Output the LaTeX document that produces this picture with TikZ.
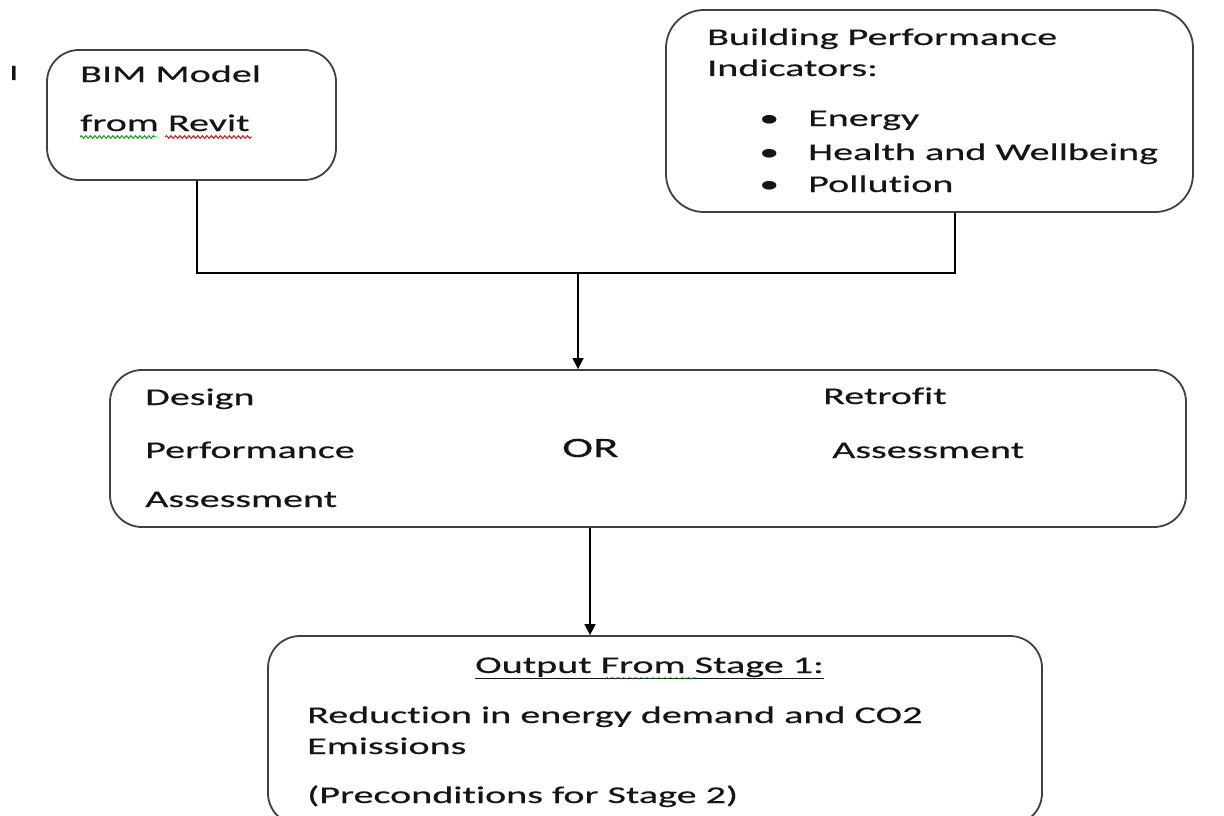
\documentclass[tikz,border=0pt]{standalone}
\usepackage{fontspec}
\setmainfont[FakeStretch=1.67,FakeBold=0.4,Ligatures=NoCommon]{Carlito}
\usetikzlibrary{arrows.meta,decorations.pathmorphing}
\definecolor{boxline}{HTML}{404040}
\definecolor{txt}{HTML}{151515}
\tikzset{
  box/.style={draw=boxline, line width=1.8pt, rounded corners=32pt, rectangle, inner sep=0pt},
  lbl/.style={anchor=base west, inner sep=0pt, text=txt, font=\fontsize{24}{28}\selectfont},
  conn/.style={draw=black, line width=1.6pt},
  arr/.style={conn, -{Triangle[width=11pt,length=11pt]}},
  squig/.style={line width=0.9pt, decorate, decoration={snake, amplitude=1.4pt, segment length=4.5pt}},
}
\begin{document}
\begin{tikzpicture}[x=1pt,y=-1pt]
\useasboundingbox (0,0) rectangle (1224,816);
\clip (0,0) rectangle (1224,816);
% boxes
\node[box, minimum width=289pt, minimum height=130pt] (bim) at (191.5,115) {};
\node[box, minimum width=527pt, minimum height=202pt, rounded corners=38pt] (bpi) at (929.5,111) {};
\node[box, minimum width=1076pt, minimum height=157pt] (mid) at (648,448.5) {};
\node[box, minimum width=774pt, minimum height=189pt] (out) at (655,730.5) {};
% stray mark
\node[lbl, font=\fontsize{22}{26}\selectfont] (mark) at (9,80) {I};
% BIM box text
\node[lbl] (t1) at (80,82) {BIM Model};
\node[lbl] (t2) at (80,131) {from Revit};
\draw[squig, draw=green!60!black] (80,137) -- (157,137);
\draw[squig, draw=red!85!black] (165,137) -- (252,137);
% BPI box text
\node[lbl] (t3) at (707,45) {Building Performance};
\node[lbl] (t4) at (707,76) {Indicators:};
\node[lbl] (b1) at (759,126) {•};
\node[lbl] (b2) at (759,160) {•};
\node[lbl] (b3) at (759,192) {•};
\node[lbl] (t5) at (808,126) {Energy};
\node[lbl] (t6) at (808,160) {Health and Wellbeing};
\node[lbl] (t7) at (808,192) {Pollution};
% middle box text
\node[lbl] (t8) at (145,405) {Design};
\node[lbl] (t9) at (145,458) {Performance};
\node[lbl] (t10) at (145,507) {Assessment};
\node[lbl] (t11) at (823,404) {Retrofit};
\node[lbl] (t12) at (832,458) {Assessment};
\node[lbl, font=\fontsize{28}{32}\selectfont] (t13) at (562,457) {OR};
% output box text
\node[lbl] (t14) at (475,673) {\underline{Output From Stage 1:}};
\draw[line width=0.9pt, green!60!black, dotted, decorate, decoration={snake, amplitude=0.8pt, segment length=3pt}] (607,678) -- (697,678);
\node[lbl] (t15) at (307,723) {Reduction in energy demand and CO2};
\node[lbl] (t16) at (307,754) {Emissions};
\node[lbl] (t17) at (307,803) {(Preconditions for Stage 2)};
% connectors
\coordinate (jl) at (197,273);
\coordinate (jr) at (955,273);
\coordinate (jm) at (578,273);
\coordinate (ax) at (590,600);
\draw[conn] (bim.south -| jl) -- (jl) -- (jr) -- (bpi.south -| jr);
\draw[arr] (jm) -- (mid.north -| jm);
\draw[arr] (mid.south -| ax) -- (out.north -| ax);
\end{tikzpicture}
\end{document}
